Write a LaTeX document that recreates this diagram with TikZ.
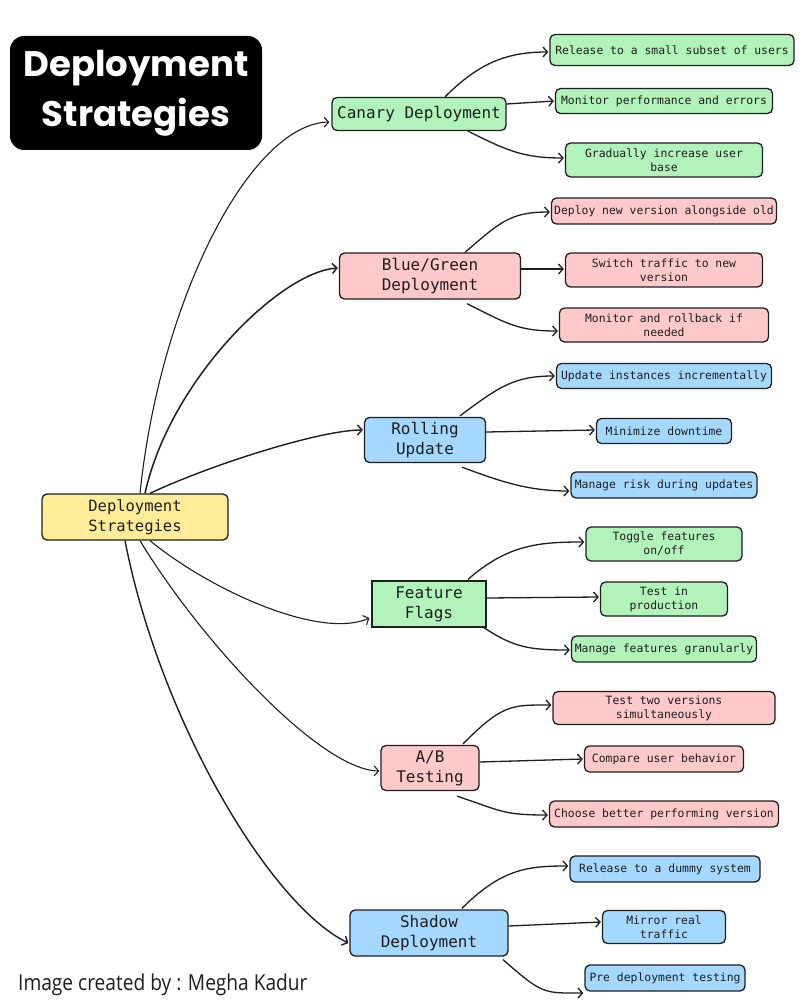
\documentclass[tikz,border=0pt]{standalone}
\usepackage{fontspec}
\setmonofont{DejaVu Sans Mono}
\newfontfamily\titlefont{Poppins}
\newfontfamily\footfont{Open Sans}
\usetikzlibrary{arrows.meta,calc}
\definecolor{ink}{HTML}{1E1E1E}
\definecolor{gfill}{HTML}{B2F2BB}
\definecolor{pfill}{HTML}{FFC9C9}
\definecolor{bfill}{HTML}{A5D8FF}
\definecolor{yfill}{HTML}{FFEC99}
\tikzset{
  box/.style={draw=ink, line width=1.3pt, rounded corners=5pt, align=center, inner sep=0pt, text=ink},
  leaf/.style={box, font=\fontsize{11.4}{14}\selectfont\ttfamily},
  mid/.style={box, font=\fontsize{16}{20}\selectfont\ttfamily},
  conn/.style={draw=ink, line width=1.3pt, -{Straight Barb[length=4.5pt,width=10pt]}},
  rconn/.style={draw=ink, line width=1.1pt, -{Straight Barb[length=4.5pt,width=10pt]}},
  gbox/.style={fill=gfill}, pbox/.style={fill=pfill}, bbox/.style={fill=bfill},
  sz/.style 2 args={minimum width=#1pt, minimum height=#2pt}
}
\begin{document}
\begin{tikzpicture}[x=1pt,y=-1pt]
\useasboundingbox[fill=white] (0,0) rectangle (800,1000);
% title
\node[fill=black, rounded corners=14pt, minimum width=252pt, minimum height=114pt, inner sep=0pt,
  text=white, align=center, font=\titlefont\bfseries\fontsize{35.5}{50}\selectfont] (title) at (136,93) {Deployment\\Strategies};
% root
\node[box, fill=yfill, sz={186}{46}, font=\fontsize{15.5}{20}\selectfont\ttfamily] (root) at (135,517) {Deployment\\Strategies};
% mid nodes
\node[mid, gbox, sz={174}{33}] (cn) at (419,114) {Canary Deployment};
\node[mid, pbox, sz={181}{46}] (bg) at (430,276) {Blue/Green\\Deployment};
\node[mid, bbox, sz={121}{45}] (ru) at (425,440) {Rolling\\Update};
\node[mid, gbox, sz={114}{46}, rounded corners=0pt] (ff) at (429,604) {Feature\\Flags};
\node[mid, pbox, sz={98}{45}] (ab) at (430,768) {A/B\\Testing};
\node[mid, bbox, sz={158}{46}] (sd) at (429,933) {Shadow\\Deployment};
% leaves
\node[leaf, gbox, sz={244}{31}] (c1) at (672,50) {Release to a small subset of users};
\node[leaf, gbox, sz={217}{25}] (c2) at (664,101) {Monitor performance and errors};
\node[leaf, gbox, sz={197}{34}] (c3) at (664,160) {Gradually increase user\\base};
\node[leaf, pbox, sz={225}{26}] (b1) at (664,211) {Deploy new version alongside old};
\node[leaf, pbox, sz={197}{34}] (b2) at (664,270) {Switch traffic to new\\version};
\node[leaf, pbox, sz={209}{34}] (b3) at (664,325) {Monitor and rollback if\\needed};
\node[leaf, bbox, sz={215}{25}] (r1) at (664,376) {Update instances incrementally};
\node[leaf, bbox, sz={135}{25}] (r2) at (664,431) {Minimize downtime};
\node[leaf, bbox, sz={186}{26}] (r3) at (664,485) {Manage risk during updates};
\node[leaf, gbox, sz={156}{34}] (f1) at (664,544) {Toggle features\\on/off};
\node[leaf, gbox, sz={127}{34}] (f2) at (664,599) {Test in\\production};
\node[leaf, gbox, sz={185}{26}] (f3) at (664,649) {Manage features granularly};
\node[leaf, pbox, sz={222}{33}] (a1) at (664,708) {Test two versions\\simultaneously};
\node[leaf, pbox, sz={159}{26}] (a2) at (664,759) {Compare user behavior};
\node[leaf, pbox, sz={229}{26}] (a3) at (664,814) {Choose better performing version};
\node[leaf, bbox, sz={190}{26}] (s1) at (665,869) {Release to a dummy system};
\node[leaf, bbox, sz={123}{33}] (s2) at (664,927) {Mirror real\\traffic};
\node[leaf, bbox, sz={160}{26}] (s3) at (665,978) {Pre deployment testing};
% footer
\node[anchor=base west, inner sep=0pt, text=ink, font=\footfont\fontsize{22}{24}\selectfont] (foot) at (18,990) {\scalebox{0.87}[1]{Image created by : Megha Kadur}};
% root connectors
\draw[rconn] ($(root.north)+(5,0)$) .. controls (160,300) and (250,124) .. ($(cn.west)+(-2,8)$);
\draw[rconn, line width=1.5pt] ($(root.north)+(10,0)$) .. controls (170,380) and (280,272) .. ($(bg.west)+(-1,-8)$);
\draw[rconn, line width=1.4pt] ($(root.north)+(15,0)$) .. controls (210,465) and (320,430) .. ($(ru.west)+(-1,-10)$);
\draw[rconn] ($(root.south)+(15,0)$) .. controls (210,590) and (320,640) .. ($(ff.west)+(-2,14)$);
\draw[rconn] ($(root.south)+(5,0)$) .. controls (200,640) and (320,770) .. ($(ab.west)+(-1,3)$);
\draw[rconn, line width=1.4pt] ($(root.south)+(-10,0)$) .. controls (160,720) and (270,905) .. ($(sd.west)+(-1,10)$);
% leaf connectors
\draw[conn] ($(cn.north)+(26,0)$) .. controls +(35,-35) and +(-40,0) .. ($(c1.west)+(-1,2)$);
\draw[conn] ($(cn.east)+(0,-10)$) -- ($(c2.west)+(-1,0)$);
\draw[conn] ($(cn.south)+(49,0)$) .. controls +(40,20) and +(-40,0) .. ($(c3.west)+(-1,-2)$);
\draw[conn] ($(bg.north)+(35,0)$) .. controls +(35,-30) and +(-40,0) .. ($(b1.west)+(-1,1)$);
\draw[conn] ($(bg.east)+(0,-7)$) -- ($(b2.west)+(-1,-1)$);
\draw[conn] ($(bg.south)+(37,4)$) .. controls +(40,20) and +(-40,0) .. ($(b3.west)+(-1,6)$);
\draw[conn] ($(ru.north)+(35,-1)$) .. controls +(40,-30) and +(-40,0) .. ($(r1.west)+(-1,0)$);
\draw[conn] ($(ru.east)+(0,-8)$) -- ($(r2.west)+(-1,-1)$);
\draw[conn] ($(ru.south)+(37,4)$) .. controls +(40,15) and +(-40,0) .. ($(r3.west)+(-1,6)$);
\draw[conn] ($(ff.north)+(39,-1)$) .. controls +(40,-35) and +(-45,0) .. ($(f1.west)+(-1,-2)$);
\draw[conn] ($(ff.east)+(0,-6)$) -- ($(f2.west)+(-1,-2)$);
\draw[conn] ($(ff.south)+(55,0)$) .. controls +(30,20) and +(-40,0) .. ($(f3.west)+(-1,1)$);
\draw[conn] ($(ab.north)+(33,-1)$) .. controls +(40,-40) and +(-40,0) .. ($(a1.west)+(-1,-3)$);
\draw[conn] ($(ab.east)+(0,-6)$) -- ($(a2.west)+(-1,0)$);
\draw[conn] ($(ab.south)+(27,5)$) .. controls +(45,15) and +(-45,0) .. ($(a3.west)+(-1,1)$);
\draw[conn] ($(sd.north)+(33,-1)$) .. controls +(40,-40) and +(-40,0) .. ($(s1.west)+(-1,-3)$);
\draw[conn] ($(sd.east)+(0,-7)$) -- ($(s2.west)+(-1,-5)$);
\draw[conn] ($(sd.south)+(74,3)$) .. controls +(40,35) and +(-40,0) .. ($(s3.west)+(-1,15)$);
\end{tikzpicture}
\end{document}
